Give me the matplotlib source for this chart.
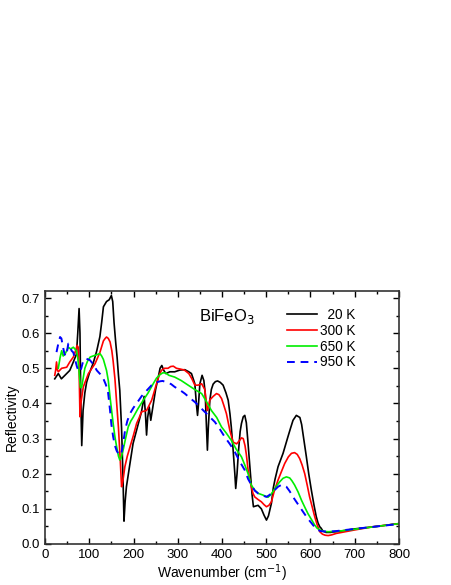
import matplotlib.pyplot as plt
from matplotlib.ticker import MultipleLocator

plt.rcParams["font.family"] = ["Liberation Sans", "DejaVu Sans"]

# 20 K
x_20 = [22, 30, 37, 45, 56, 64, 71, 74, 77, 79, 81, 83, 86, 90, 94, 100, 109, 117,
        124, 128, 132, 139, 145, 150, 153, 156, 160, 163, 166, 169, 173, 176, 178.5,
        181, 184, 192, 199, 211, 218, 224, 227, 229.5, 232, 235.5, 239, 245, 250,
        256, 260, 264, 268, 273, 282, 293, 305, 316, 325, 331, 338.6, 342, 344.7,
        347, 350, 355, 359, 362, 365, 367, 369, 372.5, 376, 380, 385, 390, 396,
        402.5, 409, 414, 418, 421, 425, 429, 431, 434, 437, 441, 444, 448, 451.5,
        455, 458, 463, 468, 471, 476, 481.5, 489, 495, 500.5, 505, 511.7, 516, 520,
        526.7, 538, 549, 555, 560.5, 568, 576, 580, 583, 590.7, 596, 602, 608, 613,
        617, 621, 624, 628, 635, 645, 670, 700, 750, 800]
r_20 = [0.47, 0.485, 0.47, 0.48, 0.494, 0.518, 0.54, 0.60, 0.67, 0.60, 0.40, 0.28,
        0.38, 0.43, 0.46, 0.485, 0.515, 0.55, 0.59, 0.63, 0.675, 0.69, 0.695, 0.707,
        0.69, 0.63, 0.57, 0.53, 0.48, 0.437, 0.33, 0.20, 0.065, 0.12, 0.163, 0.229,
        0.286, 0.343, 0.376, 0.42, 0.37, 0.31, 0.36, 0.39, 0.352, 0.40, 0.44, 0.475,
        0.50, 0.508, 0.495, 0.485, 0.49, 0.49, 0.495, 0.496, 0.49, 0.485, 0.456,
        0.40, 0.366, 0.40, 0.456, 0.48, 0.465, 0.43, 0.33, 0.267, 0.33, 0.409, 0.44,
        0.455, 0.462, 0.464, 0.46, 0.452, 0.43, 0.409, 0.37, 0.333, 0.27, 0.20,
        0.158, 0.20, 0.26, 0.32, 0.343, 0.362, 0.366, 0.345, 0.30, 0.22, 0.14,
        0.106, 0.108, 0.11, 0.10, 0.082, 0.068, 0.08, 0.116, 0.16, 0.185, 0.22,
        0.258, 0.305, 0.33, 0.352, 0.366, 0.36, 0.34, 0.314, 0.248, 0.20, 0.153,
        0.11, 0.078, 0.06, 0.049, 0.045, 0.037, 0.033, 0.033, 0.037, 0.043, 0.05,
        0.058]

# 300 K
x_300 = [22, 24, 26, 28, 30, 37.6, 49, 56, 64, 69, 72.5, 75, 77, 79, 81, 86.5, 98,
         113, 124, 132, 136, 139, 143, 147, 151, 154, 158, 162, 166, 170, 173, 176,
         180.5, 186, 192, 200, 207, 213, 218, 229.5, 241, 246, 252, 258, 263, 270,
         278, 284, 290, 297, 305, 315, 325, 332, 338.6, 346, 354, 361, 364, 367, 370,
         372.5, 380, 387.5, 393, 399, 404, 410, 417.6, 425, 433, 440, 444, 448, 452,
         455, 459, 463, 470, 474, 481, 489, 495, 500.5, 506, 511.7, 518, 526.7, 534,
         541.7, 550, 557, 564, 570, 575.6, 581, 587, 593, 598, 604, 609.5, 615, 621,
         627, 633, 640, 648, 658, 700, 741, 800]
r_300 = [0.48, 0.494, 0.518, 0.495, 0.49, 0.50, 0.503, 0.518, 0.532, 0.55, 0.565,
         0.56, 0.50, 0.362, 0.40, 0.447, 0.485, 0.513, 0.545, 0.578, 0.585, 0.589,
         0.585, 0.575, 0.55, 0.52, 0.47, 0.40, 0.33, 0.24, 0.163, 0.18, 0.22, 0.25,
         0.276, 0.31, 0.343, 0.36, 0.376, 0.38, 0.409, 0.43, 0.456, 0.48, 0.494,
         0.50, 0.50, 0.505, 0.506, 0.50, 0.498, 0.495, 0.485, 0.47, 0.452, 0.452,
         0.456, 0.44, 0.41, 0.38, 0.395, 0.41, 0.42, 0.428, 0.425, 0.414, 0.395,
         0.371, 0.324, 0.29, 0.285, 0.295, 0.302, 0.30, 0.28, 0.255, 0.21, 0.18,
         0.144, 0.134, 0.127, 0.12, 0.112, 0.106, 0.11, 0.12, 0.15, 0.182, 0.205,
         0.229, 0.248, 0.258, 0.26, 0.255, 0.243, 0.225, 0.20, 0.165, 0.134, 0.105,
         0.078, 0.055, 0.035, 0.028, 0.025, 0.024, 0.026, 0.03, 0.04, 0.049, 0.058]

# 650 K
x_650 = [30, 34, 37.6, 41, 45, 49, 52.6, 58, 64, 71, 74, 77, 80, 83, 86, 90, 96, 102,
         113, 120, 124, 128, 132, 139, 143, 147, 150, 154, 158, 162, 166, 169, 172,
         177, 182, 188, 194, 199, 210, 222, 233, 244.5, 252, 260, 266, 272, 280, 293,
         308, 323.5, 338, 354, 365, 376, 388, 399, 410, 421, 432, 444, 451.5, 459,
         466, 474, 482, 493, 504, 510, 515, 522, 530.5, 538, 545.5, 553, 558, 564,
         572, 579.5, 587, 594, 602, 609.5, 615, 621, 630, 640, 660, 700, 750, 800]
r_650 = [0.50, 0.53, 0.55, 0.535, 0.54, 0.55, 0.56, 0.555, 0.56, 0.55, 0.53, 0.49,
         0.445, 0.447, 0.47, 0.50, 0.52, 0.532, 0.537, 0.54, 0.542, 0.535, 0.525,
         0.494, 0.465, 0.418, 0.385, 0.343, 0.305, 0.276, 0.25, 0.239, 0.245, 0.27,
         0.30, 0.333, 0.35, 0.36, 0.385, 0.409, 0.43, 0.456, 0.472, 0.482, 0.487,
         0.487, 0.48, 0.475, 0.465, 0.452, 0.44, 0.428, 0.405, 0.38, 0.36, 0.333,
         0.315, 0.295, 0.27, 0.248, 0.225, 0.20, 0.168, 0.153, 0.144, 0.139, 0.133,
         0.14, 0.149, 0.163, 0.177, 0.187, 0.191, 0.188, 0.18, 0.168, 0.148, 0.125,
         0.105, 0.087, 0.07, 0.054, 0.045, 0.04, 0.036, 0.035, 0.036, 0.042, 0.05,
         0.058]

# 950 K
x_950 = [26, 30, 34, 37, 40, 44, 48, 52.6, 56, 60, 64, 68, 72, 75, 78, 82, 86, 92,
         101.6, 110, 117, 125, 132, 137, 142, 147, 150, 154, 158, 162, 168, 173, 177,
         181, 186, 192, 200, 207, 218, 230, 241, 252, 260, 266, 275, 285, 293, 305,
         316, 327, 338.6, 350, 361, 372, 384, 395, 406, 418, 429, 440, 451.5, 459,
         466.5, 474, 481.5, 490, 500.5, 508, 515, 521, 526.7, 534, 540, 545.5, 553,
         560.5, 568, 575.6, 583, 590.7, 598, 605.6, 611, 617, 622, 628, 640, 660, 700,
         750, 800]
r_950 = [0.546, 0.57, 0.589, 0.585, 0.565, 0.54, 0.535, 0.57, 0.565, 0.55, 0.545,
         0.525, 0.505, 0.495, 0.49, 0.50, 0.52, 0.528, 0.523, 0.51, 0.494, 0.483,
         0.47, 0.455, 0.437, 0.38, 0.34, 0.305, 0.28, 0.265, 0.253, 0.26, 0.29,
         0.324, 0.35, 0.371, 0.388, 0.40, 0.42, 0.437, 0.452, 0.46, 0.463, 0.464,
         0.46, 0.455, 0.447, 0.438, 0.428, 0.416, 0.404, 0.39, 0.376, 0.362, 0.347,
         0.327, 0.305, 0.284, 0.262, 0.235, 0.21, 0.185, 0.168, 0.152, 0.144, 0.139,
         0.134, 0.14, 0.149, 0.156, 0.163, 0.168, 0.167, 0.163, 0.15, 0.134, 0.12,
         0.106, 0.092, 0.078, 0.066, 0.054, 0.046, 0.04, 0.037, 0.036, 0.035, 0.037,
         0.043, 0.05, 0.057]

labels = ["  20 K", "300 K", "650 K", "950 K"]

fig = plt.figure(figsize=(4.52, 5.85), dpi=100)
ax = fig.add_axes([0.0996, 0.0701, 0.7831, 0.4325])

ax.plot(x_20, r_20, color="black", lw=1.2, label=labels[0])
ax.plot(x_300, r_300, color="#ff0000", lw=1.2, label=labels[1])
ax.plot(x_650, r_650, color="#00ee00", lw=1.2, label=labels[2])
ax.plot(x_950, r_950, color="#0000ff", lw=1.4, ls=(0, (4, 3)), label=labels[3])

ax.set_xlim(0, 800)
ax.set_ylim(0, 0.72)
ax.xaxis.set_major_locator(MultipleLocator(100))
ax.xaxis.set_minor_locator(MultipleLocator(50))
ax.yaxis.set_major_locator(MultipleLocator(0.1))
ax.yaxis.set_minor_locator(MultipleLocator(0.05))
ax.tick_params(which="both", direction="in", top=True, right=True, labelsize=9.5)
ax.tick_params(which="major", length=4, width=1)
ax.tick_params(which="minor", length=2.5, width=1)
for s in ax.spines.values():
    s.set_linewidth(1.2)
    s.set_color("#333333")

ax.set_xlabel("Wavenumber (cm$^{-1}$)", fontsize=10, labelpad=1)
ax.set_ylabel("Reflectivity", fontsize=10, labelpad=2)
ax.text(0.436, 0.90, "BiFeO$_3$", transform=ax.transAxes, fontsize=12, va="center")

ax.legend(loc="upper left", bbox_to_anchor=(0.684, 0.932), frameon=False,
          fontsize=9.8, handlelength=2.2, labelspacing=0.13, handletextpad=0.25,
          borderpad=0, borderaxespad=0)

fig.savefig("out.png", dpi=100)
